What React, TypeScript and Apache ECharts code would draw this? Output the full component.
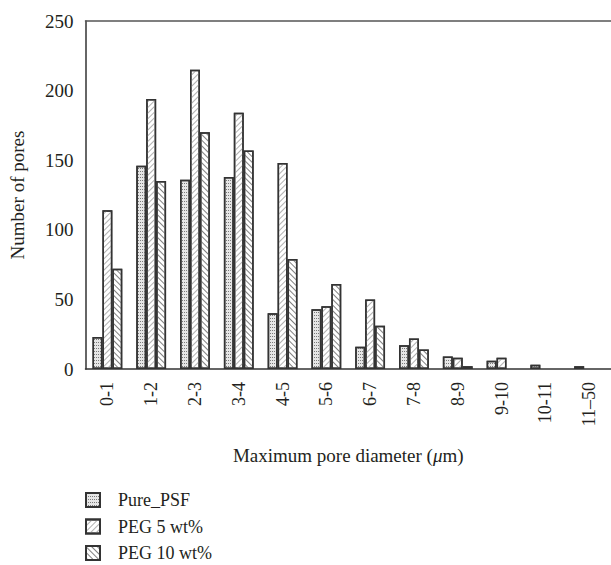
import React, { useEffect, useRef } from "react";
import * as echarts from "echarts";

const categories = ["0-1", "1-2", "2-3", "3-4", "4-5", "5-6", "6-7", "7-8", "8-9", "9-10", "10-11", "11\u201350"];
const purePSF = [23, 146, 136, 138, 40, 43, 16, 17, 9, 6, 3, 2];
const peg5 = [114, 194, 215, 184, 148, 45, 50, 22, 8, 8, 0, 0];
const peg10 = [72, 135, 170, 157, 79, 61, 31, 14, 2, 0, 0, 0];
const yTicks = [0, 50, 100, 150, 200, 250];

const FONT = "'Liberation Serif', 'DejaVu Serif', serif";
const TXT = "#231f20";

const hideZero = (arr: number[]) => arr.map((v) => (v === 0 ? null : v));

export default function App() {
  const ref = useRef<HTMLDivElement>(null);
  useEffect(() => {
    if (!ref.current) return;
    const chart = echarts.init(ref.current, undefined, { renderer: "svg" });
    const border = { borderColor: "#333", borderWidth: 1.5 };
    chart.setOption({
      animation: false,
      backgroundColor: "#fff",
      textStyle: { fontFamily: FONT, color: TXT },
      grid: { left: 85.5, top: 21, right: -6, bottom: 196, containLabel: false },
      legend: {
        orient: "vertical",
        left: 85,
        top: 491,
        height: 73,
        padding: 0,
        itemWidth: 14,
        itemHeight: 14,
        itemGap: 8.5,
        icon: "rect",
        textStyle: { fontFamily: FONT, fontSize: 18, color: TXT, padding: [0, 0, 0, 13] },
        data: ["Pure_PSF", "PEG 5 wt%", "PEG 10 wt%"],
      },
      graphic: [
        {
          type: "text",
          x: 17,
          y: 195,
          rotation: Math.PI / 2,
          style: {
            text: "Number of pores",
            fontFamily: FONT,
            fontSize: 19,
            fill: TXT,
            align: "center",
            verticalAlign: "middle",
          },
        },
      ],
      xAxis: [
        {
          type: "category",
          data: categories,
          axisLine: { show: true, lineStyle: { color: "#333", width: 1.5 } },
          axisTick: { show: false },
          axisLabel: { rotate: 90, fontFamily: FONT, fontSize: 18, color: TXT, margin: 13, interval: 0 },
          name: "Maximum pore diameter ({i|\u03bc}m)",
          nameLocation: "middle",
          nameGap: 86,
          nameTextStyle: {
            fontFamily: FONT,
            fontSize: 19,
            color: TXT,
            verticalAlign: "middle",
            rich: { i: { fontStyle: "italic", fontFamily: FONT, fontSize: 19, color: TXT } },
          },
        },
        {
          type: "category",
          data: categories,
          position: "top",
          axisLine: { show: true, lineStyle: { color: "#555", width: 1.5 } },
          axisTick: { show: false },
          axisLabel: { show: false },
        },
      ],
      yAxis: {
        type: "value",
        min: 0,
        max: 250,
        interval: 50,
        axisLine: { show: true, lineStyle: { color: "#333", width: 1.5 } },
        axisTick: { show: false },
        axisLabel: { fontFamily: FONT, fontSize: 19, color: TXT, margin: 12, customValues: yTicks },
        splitLine: { show: false },
      },
      series: [
        {
          name: "Pure_PSF",
          type: "bar",
          data: hideZero(purePSF),
          barGap: "0%",
          barCategoryGap: "32%",
          itemStyle: {
            color: "#e6e6e6",
            ...border,
            decal: { symbol: "rect", symbolSize: 1, dashArrayX: [1, 1], dashArrayY: [1, 2], color: "#7a7a7a" },
          },
        },
        {
          name: "PEG 5 wt%",
          type: "bar",
          data: hideZero(peg5),
          barGap: "0%",
          barCategoryGap: "32%",
          itemStyle: {
            color: "#fff",
            ...border,
            decal: { symbol: "rect", dashArrayX: [1, 0], dashArrayY: [1, 3], rotation: -Math.PI / 4, color: "#b0b0b0" },
          },
        },
        {
          name: "PEG 10 wt%",
          type: "bar",
          data: hideZero(peg10),
          barGap: "0%",
          barCategoryGap: "32%",
          itemStyle: {
            color: "#fff",
            ...border,
            decal: { symbol: "rect", dashArrayX: [1, 0], dashArrayY: [1, 3], rotation: Math.PI / 4, color: "#808080" },
          },
        },
      ],
    });
    return () => chart.dispose();
  }, []);
  return <div ref={ref} style={{ position: "fixed", left: 0, top: 0, width: 611, height: 565 }} />;
}
